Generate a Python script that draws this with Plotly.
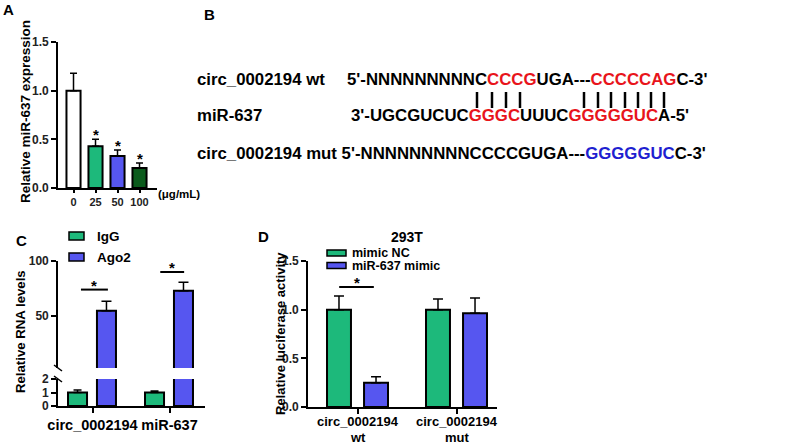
import plotly.graph_objects as go

W, H = 796, 446

# ---------------- data ----------------
# Panel A
a_doses = ["0", "25", "50", "100"]
a_values = [1.0, 0.43, 0.33, 0.205]
a_err = [0.18, 0.07, 0.06, 0.053]
a_sig = ["", "*", "*", "*"]
a_colors = ["#FFFFFF", "#1DB97B", "#5656F0", "#0B5B1C"]

# Panel C
c_targets = ["circ_0002194", "miR-637"]
c_series = ["IgG", "Ago2"]
c_igg = [1.0, 1.0]
c_igg_err = [0.18, 0.12]
c_ago2 = [54.8, 73.0]
c_ago2_err = [8.6, 7.6]

# Panel D
d_constructs = ["circ_0002194<br>wt", "circ_0002194<br>mut"]
d_series = ["mimic NC", "miR-637 mimic"]
d_nc = [1.0, 1.0]
d_nc_err = [0.14, 0.11]
d_mimic = [0.25, 0.963]
d_mimic_err = [0.06, 0.157]

GREEN = "#1DB97B"
BLUE = "#5656F0"
FONT = "Liberation Sans, Arial, sans-serif"


def fx(px):
    return px / W


def fy(py):
    return 1 - py / H


fig = go.Figure()

bar_line = dict(color="black", width=2)

# ---------------- Panel A ----------------
fig.add_trace(go.Bar(
    x=a_doses, y=a_values, width=0.64,
    marker=dict(color=a_colors, line=bar_line),
    error_y=dict(type="data", array=a_err, arrayminus=[0] * len(a_err),
                 symmetric=False, color="black", thickness=1.5, width=3.5),
    xaxis="x", yaxis="y", showlegend=False))

# ---------------- Panel C ----------------
for yax in ["y2", "y3"]:
    fig.add_trace(go.Bar(
        x=c_targets, y=c_igg, width=0.247, offset=-0.318,
        marker=dict(color=GREEN, line=bar_line),
        error_y=dict(type="data", array=c_igg_err, arrayminus=[0, 0],
                     symmetric=False, color="black", thickness=1.5, width=4),
        name=c_series[0], xaxis="x2", yaxis=yax, showlegend=False))
    fig.add_trace(go.Bar(
        x=c_targets, y=c_ago2, width=0.247, offset=0.058,
        marker=dict(color=BLUE, line=bar_line),
        error_y=dict(type="data", array=c_ago2_err, arrayminus=[0, 0],
                     symmetric=False, color="black", thickness=1.5, width=5),
        name=c_series[1], xaxis="x2", yaxis=yax, showlegend=False))

# ---------------- Panel D ----------------
fig.add_trace(go.Bar(
    x=d_constructs, y=d_nc, width=0.242, offset=-0.313,
    marker=dict(color=GREEN, line=bar_line),
    error_y=dict(type="data", array=d_nc_err, arrayminus=[0, 0],
                 symmetric=False, color="black", thickness=1.5, width=5),
    name=d_series[0], xaxis="x3", yaxis="y4", showlegend=False))
fig.add_trace(go.Bar(
    x=d_constructs, y=d_mimic, width=0.242, offset=0.061,
    marker=dict(color=BLUE, line=bar_line),
    error_y=dict(type="data", array=d_mimic_err, arrayminus=[0, 0],
                 symmetric=False, color="black", thickness=1.5, width=5),
    name=d_series[1], xaxis="x3", yaxis="y4", showlegend=False))

tickfont = dict(family=FONT, size=12, color="#222", weight="bold")
yax_common = dict(showline=True, linecolor="black", linewidth=1.6, automargin=False,
                  ticks="outside", ticklen=5, tickwidth=1.6, tickcolor="black",
                  showgrid=False, zeroline=False, tickfont=tickfont, fixedrange=True)
xax_common = dict(showline=True, linecolor="black", linewidth=1.6, type="category",
                  automargin=False, tickangle=0,
                  ticks="outside", ticklen=5, tickwidth=1.6, tickcolor="black",
                  showgrid=False, zeroline=False, fixedrange=True)

fig.update_layout(
    template="none",
    width=W, height=H, margin=dict(l=0, r=0, t=0, b=0, autoexpand=False),
    paper_bgcolor="white", plot_bgcolor="white", barmode="overlay",
    showlegend=False, font=dict(family=FONT, color="black"),
    xaxis=dict(domain=[fx(58), fx(157)], anchor="y", range=[-0.705, 3.795],
               tickfont=dict(family=FONT, size=11, color="#222", weight="bold"),
               **{**xax_common, "ticklen": 3}),
    yaxis=dict(domain=[fy(188), fy(42)], anchor="x", range=[0, 1.5],
               tickvals=[0, 0.5, 1.0, 1.5], tickformat=".1f", **yax_common),
    xaxis2=dict(domain=[fx(58), fx(205)], anchor="y2", range=[-0.448, 1.461],
                tickfont=dict(family=FONT, size=14.5, color="black", weight="bold"),
                **xax_common),
    yaxis2=dict(domain=[fy(406), fy(379)], anchor="x2", range=[0, 2],
                tickvals=[0, 1, 2], **yax_common),
    yaxis3=dict(domain=[fy(368), fy(261)], anchor="x2", range=[2.7, 100],
                tickvals=[50, 100], **yax_common),
    xaxis3=dict(domain=[fx(308), fx(497)], anchor="y4", range=[-0.505, 1.404],
                showticklabels=False, **xax_common),
    yaxis4=dict(domain=[fy(407), fy(261)], anchor="x3", range=[0, 1.5],
                tickvals=[0, 0.5, 1.0, 1.5], tickformat=".1f", **yax_common),
)

ann = []
shapes = []


def text(px, py, t, size=13, xanchor="center", yanchor="middle", angle=0, color="black", weight="bold"):
    ann.append(dict(x=fx(px), y=fy(py), xref="paper", yref="paper", text=t, showarrow=False,
                    xanchor=xanchor, yanchor=yanchor, textangle=angle,
                    font=dict(family=FONT, size=size, color=color, weight=weight)))


# panel letters
text(8, 10, "A", 15)
text(210, 15, "B", 15)
text(21, 240, "C", 15)
text(263, 236, "D", 15)

# y titles
text(25, 112, "Relative miR-637 expression", 13.5, angle=-90)
text(20, 332, "Relative RNA levels", 13.2, angle=-90)
text(280, 334, "Relative luciferase activity", 13, angle=-90)

text(156, 194, "(μg/mL)", 11.5, xanchor="left")
text(407, 237, "293T", 14)

# category labels panel D (two tightly spaced lines)
for i, lab in enumerate(d_constructs):
    for k, line in enumerate(lab.split("<br>")):
        ann.append(dict(x=i, y=fy(421 + 16 * k), xref="x3", yref="paper", text=line,
                        showarrow=False, xanchor="center", yanchor="middle",
                        font=dict(family=FONT, size=13, color="black", weight="bold")))

# stars panel A
for i, (v, e, s) in enumerate(zip(a_values, a_err, a_sig)):
    if s:
        ann.append(dict(x=i, y=v + e, xref="x", yref="y", text=s, showarrow=False,
                        yanchor="bottom", yshift=-6,
                        font=dict(family=FONT, size=15, color="black", weight="bold")))

# significance lines panel C / D
sig_c = [(0, -0.15, 0.2, 74), (1, -0.12, 0.19, 90)]
for i, x0, x1, yv in sig_c:
    shapes.append(dict(type="line", xref="x2", yref="y3", x0=i + x0, x1=i + x1, y0=yv, y1=yv,
                       line=dict(color="black", width=2)))
    ann.append(dict(x=i + (x0 + x1) / 2, y=yv, xref="x2", yref="y3", text="*", showarrow=False,
                    yanchor="bottom", yshift=-6,
                    font=dict(family=FONT, size=15, color="black", weight="bold")))
shapes.append(dict(type="line", xref="x3", yref="y4", x0=-0.19, x1=0.16, y0=1.233, y1=1.233,
                   line=dict(color="black", width=2)))
ann.append(dict(x=-0.015, y=1.233, xref="x3", yref="y4", text="*", showarrow=False,
                yanchor="bottom", yshift=-6,
                font=dict(family=FONT, size=15, color="black", weight="bold")))

# axis break marks panel C
for (x0, y0, x1, y1) in [(54, 365, 62, 371), (54, 376, 62, 382)]:
    shapes.append(dict(type="line", xref="paper", yref="paper", x0=fx(x0), y0=fy(y0),
                       x1=fx(x1), y1=fy(y1), line=dict(color="black", width=1.5)))

# legends (manual)
for k, (name, col) in enumerate(zip(c_series, [GREEN, BLUE])):
    yc = 236 + 21 * k
    shapes.append(dict(type="rect", xref="paper", yref="paper", x0=fx(69), x1=fx(84),
                       y0=fy(yc + 4), y1=fy(yc - 4), fillcolor=col,
                       line=dict(color="black", width=1.5)))
    text(95, yc, name, 13.5, xanchor="left")
for k, (name, col) in enumerate(zip(d_series, [GREEN, BLUE])):
    yc = 253 + 12.5 * k
    shapes.append(dict(type="rect", xref="paper", yref="paper", x0=fx(327), x1=fx(346),
                       y0=fy(yc + 3), y1=fy(yc - 3), fillcolor=col,
                       line=dict(color="black", width=1.5)))
    text(350, yc, name, 12.5, xanchor="left")

# Panel B: sequences
RED = "#E8141B"
SEQBLUE = "#1F1FD0"
FS = 16.8


def red(s):
    return f"<span style='color:{RED}'>{s}</span>"


text(195, 80, "circ_0002194 wt", FS, xanchor="left")
text(345, 80, "5'-NNNNNNNNNC" + red("CCCG") + "UGA---" + red("CCCCCAG") + "C-3'", FS, xanchor="left")
text(195, 116, "miR-637", FS, xanchor="left")
text(349, 116, "3'-UGCGUCUC" + red("GGGC") + "UUUC" + red("GGGGGUC") + "A-5'", FS, xanchor="left")
text(195, 153, "circ_0002194 mut 5'-NNNNNNNNNCCCCGUGA---"
     + f"<span style='color:{SEQBLUE}'>GGGGGUC</span>" + "C-3'", FS, xanchor="left")

for xp in [477, 492, 506, 520, 584, 598, 611, 625, 638, 651, 664]:
    shapes.append(dict(type="line", xref="paper", yref="paper", x0=fx(xp), x1=fx(xp),
                       y0=fy(92), y1=fy(108), line=dict(color="black", width=2.5)))

fig.update_layout(annotations=ann, shapes=shapes)

fig.write_html("out.html", config={"displayModeBar": False},
               post_script="document.body.style.margin='0';")
